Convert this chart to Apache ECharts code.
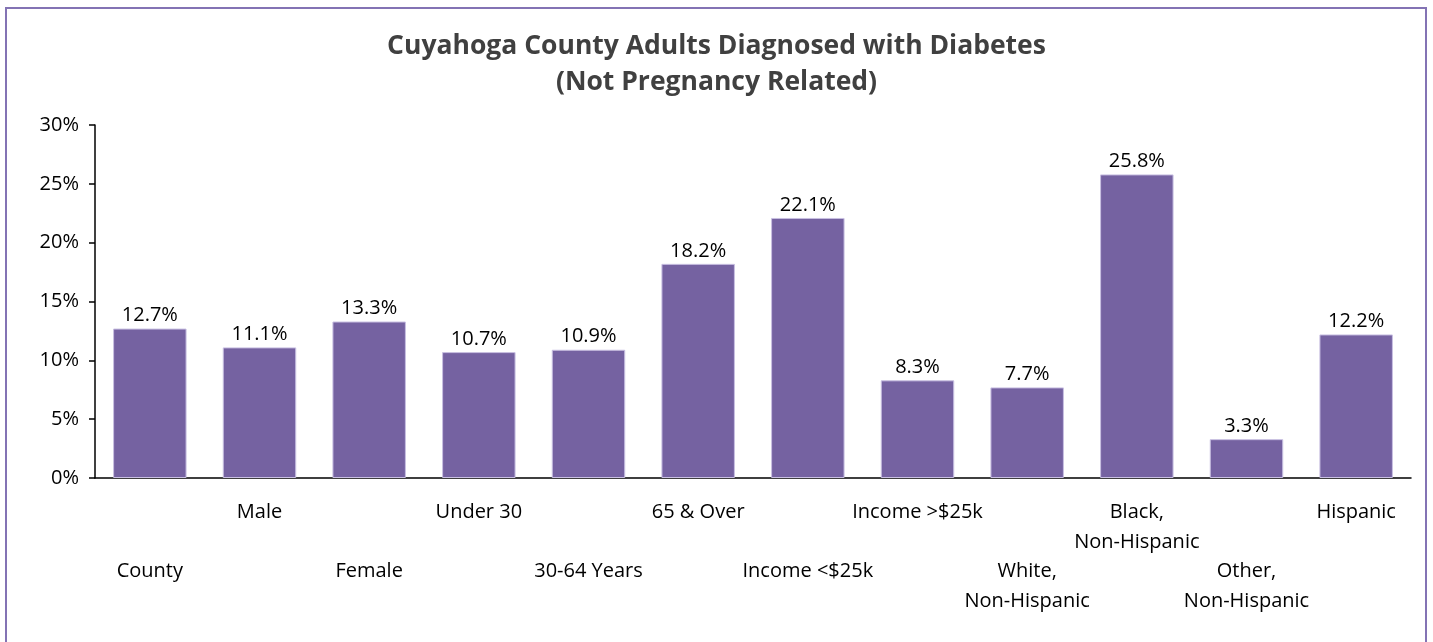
<!DOCTYPE html>
<html>
<head>
<meta charset="utf-8">
<script src="https://cdn.jsdelivr.net/npm/echarts@6/dist/echarts.min.js"></script>
<style>
  html, body { margin: 0; padding: 0; background: #fff; }
  #frame { position: absolute; left: 5px; top: 7px; width: 1422px; height: 650px; border: 2px solid #8373b4; box-sizing: border-box; }
  #chart { position: absolute; left: 0; top: 0; width: 1433px; height: 642px; }
</style>
</head>
<body>
<div id="frame"></div>
<div id="chart"></div>
<script>
const categories = ['County', 'Male', 'Female', 'Under 30', '30-64 Years', '65 & Over',
  'Income <$25k', 'Income >$25k', 'White,\nNon-Hispanic', 'Black,\nNon-Hispanic',
  'Other,\nNon-Hispanic', 'Hispanic']
const values = [12.7, 11.1, 13.3, 10.7, 10.9, 18.2, 22.1, 8.3, 7.7, 25.8, 3.3, 12.2]
const yTicks = [0, 5, 10, 15, 20, 25, 30]

const font = '"Open Sans", "Noto Sans", sans-serif'
const chart = echarts.init(document.getElementById('chart'))

chart.setOption({
  animation: false,
  title: {
    text: 'Cuyahoga County Adults Diagnosed with Diabetes\n(Not Pregnancy Related)',
    left: 'center',
    top: 23,
    textStyle: { fontFamily: font, fontSize: 26.5, fontWeight: 'bold', color: '#404040', lineHeight: 36 }
  },
  grid: { left: 95, right: 22, top: 125, bottom: 164 },
  xAxis: {
    type: 'category',
    data: categories,
    axisLine: { lineStyle: { color: '#000', width: 1.5 } },
    axisTick: { length: 6, lineStyle: { color: '#000', width: 1.5 } },
    axisLabel: {
      interval: 0,
      margin: 20,
      fontFamily: font,
      fontSize: 20,
      color: '#000',
      lineHeight: 29.5,
      // even-index labels sit on the lower row
      formatter: (v, i) => (i % 2 === 0 ? '\n\n' + v : v)
    }
  },
  yAxis: {
    type: 'value',
    min: yTicks[0],
    max: yTicks[yTicks.length - 1],
    interval: 5,
    splitLine: { show: false },
    axisLine: { show: true, lineStyle: { color: '#000', width: 1.5 } },
    axisTick: { show: true, inside: false, length: 6, lineStyle: { color: '#000', width: 1.5 } },
    axisLabel: { fontFamily: font, fontSize: 20, color: '#000', margin: 16, formatter: '{value}%' }
  },
  series: [{
    type: 'bar',
    data: values,
    barCategoryGap: '33%',
    itemStyle: { color: '#7562a1', borderColor: '#c9c0e2', borderWidth: 1 },
    label: {
      show: true,
      position: 'top',
      distance: 3,
      fontFamily: font,
      fontSize: 20,
      color: '#000',
      formatter: p => p.value.toFixed(1) + '%'
    }
  }]
})
</script>
</body>
</html>
